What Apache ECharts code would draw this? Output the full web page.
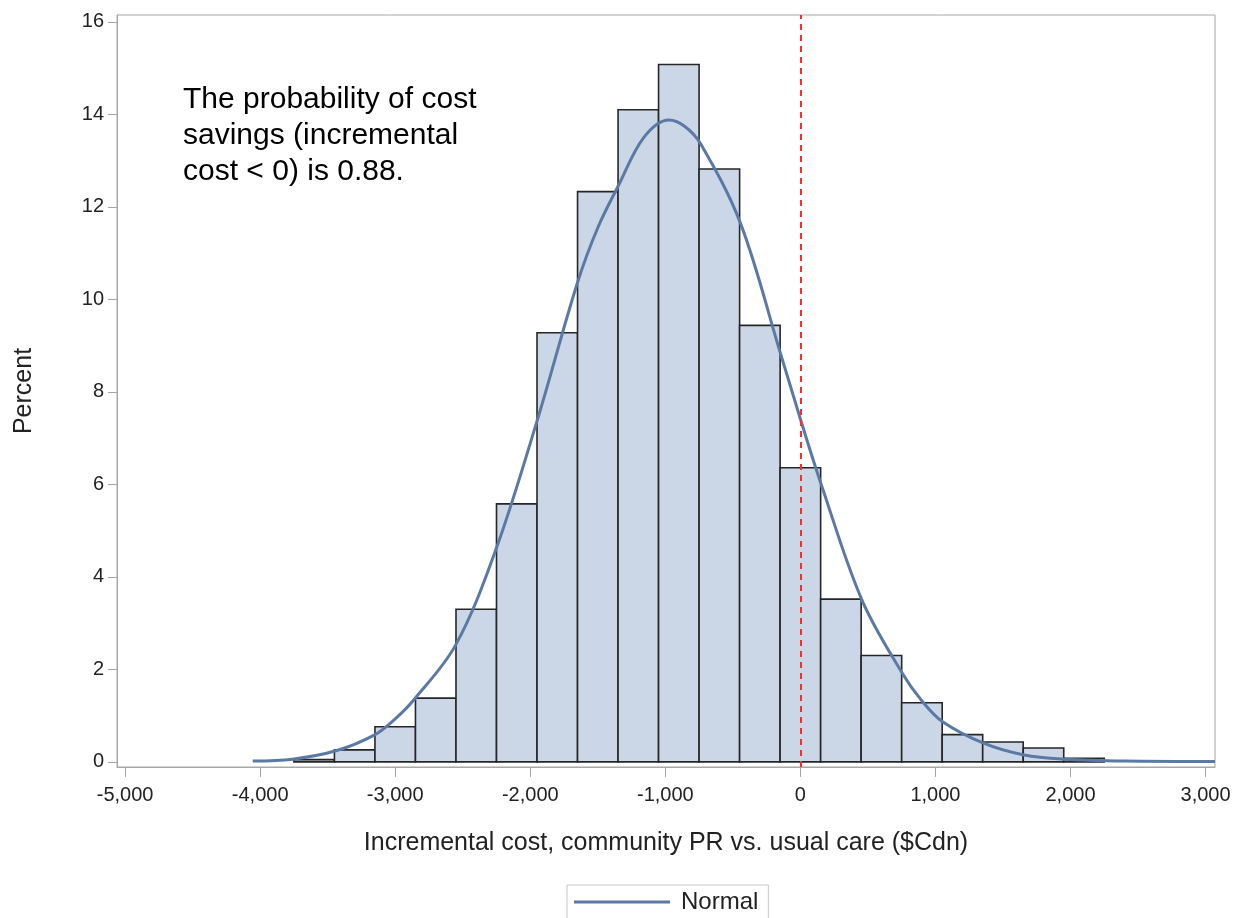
<!DOCTYPE html>
<html>
<head>
<meta charset="utf-8">
<script src="https://cdn.jsdelivr.net/npm/echarts@6/dist/echarts.min.js"></script>
<style>
  html, body { margin: 0; padding: 0; background: #ffffff; }
  #chart { width: 1242px; height: 918px; }
</style>
</head>
<body>
<div id="chart"></div>
<script>
// Histogram bin centres (incremental cost, $Cdn) and bin width
const binCenters = [-3600, -3300, -3000, -2700, -2400, -2100, -1800, -1500, -1200, -900,
                    -600, -300, 0, 300, 600, 900, 1200, 1500, 1800, 2100];
const binWidth = 300;
// Percent of simulations in each bin
const binPercent = [0.05, 0.26, 0.76, 1.38, 3.30, 5.58, 9.28, 12.33, 14.10, 15.08,
                    12.82, 9.44, 6.36, 3.52, 2.30, 1.28, 0.59, 0.43, 0.30, 0.08];
// Fitted normal curve (x, percent)
const normalX = [-4055, -3760, -3439, -3156, -3008, -2860, -2552, -2256, -1948, -1652,
                 -1500, -1344, -1160, -974, -860, -740, -444, -148, 7, 160,
                 456, 752, 900, 1053, 1361, 1657, 1953, 2400, 3070];
const normalY = [0.02, 0.06, 0.24, 0.58, 0.91, 1.35, 2.53, 4.58, 7.39, 10.35,
                 11.55, 12.48, 13.50, 13.88, 13.75, 13.37, 11.65, 8.84, 7.35, 5.95,
                 3.50, 1.93, 1.32, 0.87, 0.40, 0.15, 0.06, 0.02, 0.01];
// Axis ticks
const xTicks = [-5000, -4000, -3000, -2000, -1000, 0, 1000, 2000, 3000];
const yTicks = [0, 2, 4, 6, 8, 10, 12, 14, 16];
const refLineX = 0;
const annotation = 'The probability of cost\nsavings (incremental\ncost < 0) is 0.88.';
const xTitle = 'Incremental cost, community PR vs. usual care ($Cdn)';
const yTitle = 'Percent';

const font = '"Liberation Sans", Arial, sans-serif';
const histData = binCenters.map((c, i) => [c - binWidth / 2, c + binWidth / 2, binPercent[i]]);
const curveData = normalX.map((x, i) => [x, normalY[i]]);

const chart = echarts.init(document.getElementById('chart'), null, { renderer: 'canvas' });
chart.setOption({
  animation: false,
  backgroundColor: '#ffffff',
  textStyle: { fontFamily: font },
  grid: { left: 117, right: 27, top: 15, bottom: 151, show: true, borderColor: '#a6a6a6', borderWidth: 1, containLabel: false },
  xAxis: {
    type: 'value', min: -5060, max: 3070,
    name: xTitle, nameLocation: 'middle', nameGap: 64,
    nameTextStyle: { fontSize: 25, color: '#222', fontFamily: font },
    axisLine: { show: true, onZero: false, lineStyle: { color: '#a6a6a6', width: 1 } },
    axisTick: { show: true, length: 10, customValues: xTicks, lineStyle: { color: '#a6a6a6' } },
    axisLabel: { customValues: xTicks, margin: 18, fontSize: 20, color: '#222', fontFamily: font,
      formatter: v => Number(v).toLocaleString('en-US') },
    splitLine: { show: false }
  },
  yAxis: {
    type: 'value', min: -0.11, max: 16.15,
    name: yTitle, nameLocation: 'middle', nameGap: 80, nameRotate: 90,
    nameTextStyle: { fontSize: 25, color: '#222', fontFamily: font },
    axisLine: { show: true, onZero: false, lineStyle: { color: '#a6a6a6', width: 1 } },
    axisTick: { show: true, length: 9, customValues: yTicks, lineStyle: { color: '#a6a6a6' } },
    axisLabel: { customValues: yTicks, margin: 13, fontSize: 20, color: '#222', fontFamily: font },
    splitLine: { show: false }
  },
  legend: {
    data: [{ name: 'Normal', icon: 'rect' }], left: 567, top: 885,
    padding: [5, 10, 5, 7], itemGap: 10, itemWidth: 96, itemHeight: 3,
    borderColor: '#c8c8c8', borderWidth: 1,
    textStyle: { fontSize: 24, color: '#222', fontFamily: font, padding: [0, 0, 0, 6] }
  },
  graphic: [{
    type: 'text', left: 183, top: 82,
    style: { text: annotation, font: '30px ' + font, fill: '#000', lineHeight: 36 }
  }],
  series: [
    {
      type: 'custom', name: 'Histogram', data: histData, z: 2,
      encode: { x: [0, 1], y: 2 },
      renderItem: function (params, api) {
        const p0 = api.coord([api.value(0), api.value(2)]);
        const p1 = api.coord([api.value(1), 0]);
        return {
          type: 'rect',
          shape: { x: p0[0], y: p0[1], width: p1[0] - p0[0], height: p1[1] - p0[1] },
          style: { fill: '#cbd7e6', stroke: '#262626', lineWidth: 1.6 }
        };
      },
      markLine: {
        silent: true, symbol: 'none', label: { show: false },
        lineStyle: { color: '#ff2a2a', type: [6, 5], width: 2 },
        data: [{ xAxis: refLineX }]
      }
    },
    {
      type: 'line', name: 'Normal', data: curveData, z: 4,
      smooth: 0.35, showSymbol: false, symbol: 'none',
      lineStyle: { color: '#5a7aa5', width: 3 },
      itemStyle: { color: '#5a7aa5' }
    }
  ]
});
</script>
</body>
</html>
